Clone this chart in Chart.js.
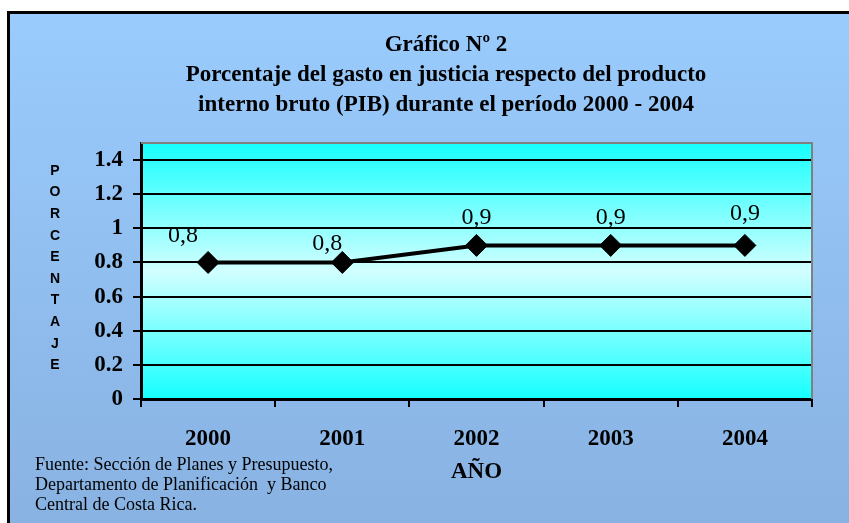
<!DOCTYPE html>
<html>
<head>
<meta charset="utf-8">
<script src="https://cdn.jsdelivr.net/npm/chart.js@4/dist/chart.umd.min.js"></script>
<style>
  html, body { margin: 0; padding: 0; background: #ffffff; }
  #wrap { width: 849px; height: 523px; position: relative; }
</style>
</head>
<body>
<div id="wrap"><canvas id="c" width="849" height="523"></canvas></div>
<script>
// ---- Data ----
const categories = ['2000', '2001', '2002', '2003', '2004'];
const gastoPIB = [0.8, 0.8, 0.9, 0.9, 0.9];
const valueLabels = ['0,8', '0,8', '0,9', '0,9', '0,9'];
const yTickValues = [0, 0.2, 0.4, 0.6, 0.8, 1, 1.2, 1.4];
const titleLines = [
  'Gráfico Nº 2',
  'Porcentaje del gasto en justicia respecto del producto',
  'interno bruto (PIB) durante el período 2000 - 2004'
];
const yTitleText = 'PORCENTAJE';
const xTitleText = 'AÑO';
const sourceLines = [
  'Fuente: Sección de Planes y Presupuesto,',
  'Departamento de Planificación  y Banco',
  'Central de Costa Rica.'
];

const SERIF = '"Liberation Serif", "Times New Roman", serif';
const SANS = '"Liberation Sans", Arial, sans-serif';

// ---- Plugins ----
const backgroundPlugin = {
  id: 'bgPlugin',
  beforeDraw(chart) {
    const { ctx, width, height, chartArea: a } = chart;
    ctx.save();
    const g = ctx.createLinearGradient(0, 0, 0, height);
    g.addColorStop(0, '#9ACCFE');
    g.addColorStop(1, '#88B2E2');
    ctx.fillStyle = g;
    ctx.fillRect(0, 0, width, height);
    // outer frame
    ctx.fillStyle = '#ffffff';
    ctx.fillRect(0, 0, width, 11);
    ctx.fillRect(0, 0, 7, height);
    ctx.strokeStyle = '#000000';
    ctx.lineWidth = 3;
    ctx.beginPath();
    ctx.moveTo(8.5, height + 5);
    ctx.lineTo(8.5, 12.5);
    ctx.lineTo(width + 5, 12.5);
    ctx.stroke();
    // plot area gradient
    const pg = ctx.createLinearGradient(0, a.top, 0, a.bottom);
    pg.addColorStop(0, '#16FFFF');
    pg.addColorStop(0.5, '#D2FFFF');
    pg.addColorStop(1, '#16FFFF');
    ctx.fillStyle = pg;
    ctx.fillRect(a.left, a.top, a.right - a.left, a.bottom - a.top);
    ctx.restore();
  },
  afterDatasetsDraw(chart) {
    const { ctx, chartArea: a } = chart;
    ctx.save();
    ctx.strokeStyle = '#808080';
    ctx.lineWidth = 2;
    ctx.beginPath();
    ctx.moveTo(a.left, a.top);
    ctx.lineTo(a.right, a.top);
    ctx.lineTo(a.right, a.bottom);
    ctx.stroke();
    ctx.restore();
  }
};

const textPlugin = {
  id: 'textPlugin',
  afterDraw(chart, args, opts) {
    const { ctx } = chart;
    ctx.save();
    ctx.fillStyle = '#000000';
    // title
    ctx.font = 'bold 23px ' + SERIF;
    ctx.textAlign = 'center';
    ctx.textBaseline = 'middle';
    titleLines.forEach((t, i) => ctx.fillText(t, opts.titleX, opts.titleY + i * opts.titleStep));
    // vertical y title
    ctx.font = 'bold 14px ' + SANS;
    yTitleText.split('').forEach((ch, i) => ctx.fillText(ch, opts.yTitleX, opts.yTitleY + i * opts.yTitleStep));
    // source note
    ctx.font = '18px ' + SERIF;
    ctx.textAlign = 'left';
    sourceLines.forEach((t, i) => ctx.fillText(t, opts.srcX, opts.srcY + i * opts.srcStep));
    // value labels
    const meta = chart.getDatasetMeta(0);
    ctx.font = '24px ' + SERIF;
    ctx.textAlign = 'center';
    meta.data.forEach((pt, i) => {
      const off = opts.labelOffsets[i];
      ctx.fillText(valueLabels[i], pt.x + off[0], pt.y + off[1]);
    });
    ctx.restore();
  }
};

// ---- Chart ----
new Chart(document.getElementById('c'), {
  type: 'line',
  data: {
    labels: categories,
    datasets: [{
      data: gastoPIB,
      borderColor: '#000000',
      backgroundColor: '#000000',
      borderWidth: 4,
      pointStyle: 'rectRot',
      pointRadius: 11,
      pointHoverRadius: 11,
      pointBackgroundColor: '#000000',
      pointBorderColor: '#000000',
      pointBorderWidth: 1,
      tension: 0,
      fill: false
    }]
  },
  options: {
    responsive: false,
    animation: false,
    events: [],
    layout: { padding: { left: 88, right: 37, top: 143, bottom: 0 } },
    plugins: {
      legend: { display: false },
      title: { display: false },
      tooltip: { enabled: false },
      textPlugin: {
        titleX: 446, titleY: 45, titleStep: 30,
        yTitleX: 55, yTitleY: 171, yTitleStep: 21.6,
        srcX: 35, srcY: 465, srcStep: 20,
        labelOffsets: [[-25, -27], [-15, -19], [0, -28], [0, -28], [0, -32]]
      }
    },
    scales: {
      x: {
        type: 'category',
        offset: true,
        afterFit(scale) { scale.height = 124; },
        grid: {
          offset: true,
          drawOnChartArea: false,
          drawTicks: true,
          tickLength: 8,
          tickColor: '#000000',
          lineWidth: 2
        },
        border: { display: true, color: '#000000', width: 3 },
        ticks: {
          color: '#000000',
          padding: 18,
          font: { family: SERIF, size: 23, weight: 'bold' },
          maxRotation: 0
        },
        title: {
          display: true,
          text: xTitleText,
          color: '#000000',
          font: { family: SERIF, size: 23, weight: 'bold' },
          padding: { top: 0, bottom: 37 }
        }
      },
      y: {
        min: 0,
        max: 1.5,
        afterFit(scale) { scale.width = 53; },
        afterBuildTicks(scale) {
          scale.ticks = yTickValues.map(v => ({ value: v }));
        },
        grid: {
          color: '#000000',
          lineWidth: 2,
          drawTicks: true,
          tickLength: 8,
          tickColor: '#000000'
        },
        border: { display: true, color: '#000000', width: 3 },
        ticks: {
          color: '#000000',
          padding: 10,
          font: { family: SERIF, size: 23, weight: 'bold' },
          callback: (v) => String(Math.round(v * 10) / 10)
        }
      }
    }
  },
  plugins: [backgroundPlugin, textPlugin]
});
</script>
</body>
</html>
